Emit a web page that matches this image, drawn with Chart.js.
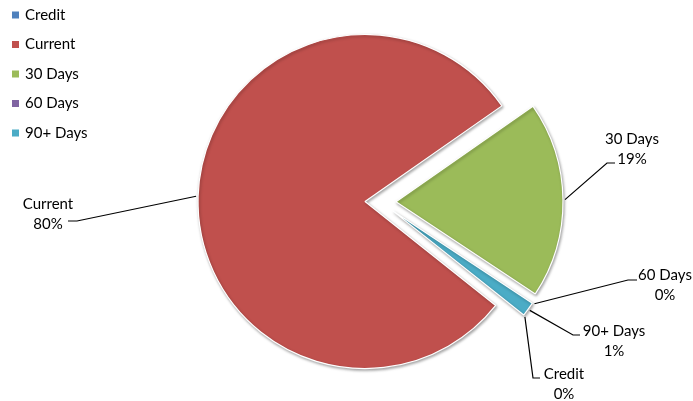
<!DOCTYPE html>
<html>
<head>
<meta charset="utf-8">
<script src="https://cdn.jsdelivr.net/npm/chart.js@4/dist/chart.umd.min.js"></script>
<style>
  html, body { margin: 0; padding: 0; background: #fff; }
  #wrap { width: 693px; height: 401px; position: relative; }
</style>
</head>
<body>
<div id="wrap"><canvas id="c" width="693" height="401"></canvas></div>
<script>
// ---- data ----
const categories = ['Credit', 'Current', '30 Days', '60 Days', '90+ Days'];
const shares = [0, 79.6, 19.0, 0, 1.4];          // percent of total
const shareLabels = ['0%', '80%', '19%', '0%', '1%'];
const colors = ['#4F81BD', '#C0504D', '#9BBB59', '#8064A2', '#4BACC6'];

// ---- layout / style ----
const FONT = '15px Lato, "Open Sans", sans-serif';
const EXPLODE = 15.5;
const RADIUS = 167;
// label placement: text centre, elbow of leader and its end
const labelLayout = [
  { tx: 564, ty: 374, elbow: [533, 378], end: [540, 378] },   // Credit
  { tx: 48,  ty: 204, elbow: [77, 221],  end: [68, 221] },    // Current
  { tx: 632, ty: 139, elbow: [607, 163], end: [615, 163] },   // 30 Days
  { tx: 665, ty: 275, elbow: [628, 280], end: [637, 280] },   // 60 Days
  { tx: 614, ty: 331, elbow: [573, 335], end: [580, 335] }    // 90+ Days
];

const explodePlugin = {
  id: 'explode',
  beforeDatasetDraw(chart, args) {
    args.meta.data.forEach(arc => {
      if (arc._exploded) return;
      const orig = arc.draw;
      arc.draw = function (ctx, area) {
        const mid = (this.startAngle + this.endAngle) / 2;
        ctx.save();
        ctx.translate(Math.cos(mid) * EXPLODE, Math.sin(mid) * EXPLODE);
        ctx.shadowColor = 'rgba(0,0,0,0.35)';
        ctx.shadowBlur = 3;
        ctx.shadowOffsetX = 1;
        ctx.shadowOffsetY = 1.5;
        orig.call(this, ctx, area);
        ctx.restore();
      };
      arc._exploded = true;
    });
  }
};

const labelPlugin = {
  id: 'pieLabels',
  afterDraw(chart) {
    const ctx = chart.ctx;
    const meta = chart.getDatasetMeta(0);
    ctx.save();
    ctx.font = FONT;
    ctx.textAlign = 'center';
    ctx.textBaseline = 'middle';
    // legend
    categories.forEach((name, i) => {
      const y = 15 + i * 29.5;
      ctx.fillStyle = colors[i];
      ctx.fillRect(12, y - 3.5, 7, 7);
      ctx.fillStyle = '#000';
      ctx.textAlign = 'left';
      ctx.fillText(name, 25, y);
    });
    ctx.textAlign = 'center';
    // data labels with leader lines
    meta.data.forEach((arc, i) => {
      const mid = (arc.startAngle + arc.endAngle) / 2;
      const r = arc.outerRadius + EXPLODE + 2;
      const sx = arc.x + Math.cos(mid) * r;
      const sy = arc.y + Math.sin(mid) * r;
      const L = labelLayout[i];
      ctx.strokeStyle = '#000';
      ctx.lineWidth = 1.2;
      ctx.beginPath();
      ctx.moveTo(sx, sy);
      ctx.lineTo(L.elbow[0], L.elbow[1]);
      ctx.lineTo(L.end[0], L.end[1]);
      ctx.stroke();
      ctx.fillStyle = '#000';
      ctx.fillText(categories[i], L.tx, L.ty);
      ctx.fillText(shareLabels[i], L.tx, L.ty + 20.5);
    });
    ctx.restore();
  }
};

new Chart(document.getElementById('c'), {
  type: 'pie',
  data: {
    labels: categories,
    datasets: [{
      data: shares,
      backgroundColor: colors,
      borderColor: '#ffffff',
      borderWidth: 1.2
    }]
  },
  options: {
    responsive: false,
    animation: false,
    rotation: 128.5,
    radius: RADIUS,
    layout: { padding: { left: 68, right: 0, top: 3, bottom: 0 } },
    plugins: { legend: { display: false }, tooltip: { enabled: false } }
  },
  plugins: [explodePlugin, labelPlugin]
});
</script>
</body>
</html>
